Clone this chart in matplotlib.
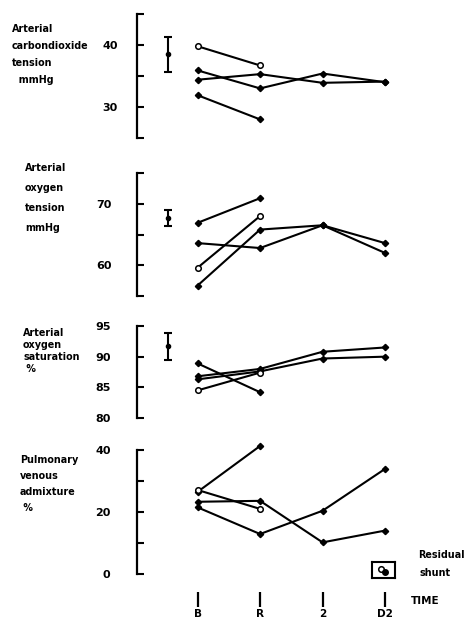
import matplotlib
matplotlib.use("Agg")
import matplotlib.pyplot as plt

times = ["B", "R", "2", "D2"]

# arterial CO2 tension, mmHg
co2_shunt = [39.8, 36.7]
co2_a = [35.9, 33.0, 35.4, 34.0]
co2_b = [34.4, 35.3, 33.9, 34.1]
co2_c = [31.9, 28.0]
co2_norm = (38.5, 2.85)

# arterial O2 tension, mmHg
o2_shunt = [59.6, 68.0]
o2_a = [66.9, 70.9]
o2_b = [63.6, 62.8, 66.5, 63.6]
o2_c = [56.7, 65.8, 66.5, 62.0]
o2_norm = (67.7, 1.25)

# arterial O2 saturation, %
sat_shunt = [84.5, 87.4]
sat_a = [88.9, 84.2]
sat_b = [86.8, 88.0, 90.8, 91.5]
sat_c = [86.3, 87.6, 89.7, 90.0]
sat_norm = (91.7, 2.2)

# pulmonary venous admixture, %
adm_shunt = [27.1, 21.0]
adm_a = [26.5, 41.3]
adm_b = [23.3, 23.6, 10.2, 14.0]
adm_c = [21.5, 12.9, 20.4, 33.9]

W, H = 467, 623
fig = plt.figure(figsize=(W / 100, H / 100), dpi=100)
plt.rcParams["font.family"] = "DejaVu Sans"

def px_axes(top, bottom):
    return fig.add_axes([137 / W, 1 - bottom / H, 273 / W, (bottom - top) / H])

panels = [
    # top px, bottom px, ylim, ticks, labelled ticks, shunt, filled series, norm, pad
    (14, 138, (25, 45), [25, 30, 35, 40, 45], [30, 40], co2_shunt, [co2_a, co2_b, co2_c], co2_norm, 14),
    (173, 296, (55, 75), [55, 60, 65, 70, 75], [60, 70], o2_shunt, [o2_a, o2_b, o2_c], o2_norm, 18),
    (326, 418, (80, 95), [80, 85, 90, 95], [80, 85, 90, 95], sat_shunt, [sat_a, sat_b, sat_c], sat_norm, 19),
    (450, 574, (0, 40), [0, 10, 20, 30, 40], [0, 20, 40], adm_shunt, [adm_a, adm_b, adm_c], None, 19),
]

axes = []
for top, bottom, ylim, ticks, shown, shunt, series, norm, pad in panels:
    ax = px_axes(top, bottom)
    ax.set_xlim(-0.97, 3.4)
    ax.set_ylim(*ylim)
    for s in ["top", "right", "bottom"]:
        ax.spines[s].set_visible(False)
    ax.spines["left"].set_linewidth(1.6)
    ax.set_yticks(ticks, [str(t) if t in shown else "" for t in ticks])
    ax.tick_params(axis="y", direction="in", length=5, width=1.5, pad=pad,
                   labelsize=8)
    for lab in ax.get_yticklabels():
        lab.set_fontweight("bold")
    ax.set_xticks([])
    ax.patch.set_alpha(0)

    for s in series:
        ax.plot(range(len(s)), s, color="black", lw=1.5, marker="D", ms=3.2,
                clip_on=False)
    ax.plot(range(len(shunt)), shunt, color="black", lw=1.5, marker="o", ms=4,
            mfc="white", mew=1.1, clip_on=False)
    if norm is not None:
        ax.errorbar([-0.47], [norm[0]], yerr=[norm[1]], fmt="o", ms=3,
                    color="black", lw=1.5, capsize=3, capthick=1.5)
    axes.append(ax)

# time axis under the last panel
ax4 = axes[-1]
ax4.spines["bottom"].set_visible(True)
ax4.spines["bottom"].set_color("none")
ax4.spines["bottom"].set_position(("outward", 13))
ax4.set_xticks(range(len(times)), times)
ax4.tick_params(axis="x", direction="out", length=10.5, width=1.6, pad=2,
                labelsize=7.5)
for lab in ax4.get_xticklabels():
    lab.set_fontweight("bold")
ax4.text(3.42, -0.22, "TIME", transform=ax4.get_xaxis_transform(),
         fontsize=7.5, fontweight="bold", va="center", ha="left")

# panel titles on the left
titles = [
    (12, 29, 17, ["Arterial", "carbondioxide", "tension", "  mmHg"]),
    (25, 168, 20, ["Arterial", "oxygen", "tension", "mmHg"]),
    (23, 333, 12, ["Arterial", "oxygen", "saturation", " %"]),
    (20, 460, 16, ["Pulmonary", "venous", "admixture", " %"]),
]
for x, y, step, lines in titles:
    for i, line in enumerate(lines):
        fig.text(x / W, 1 - (y + i * step) / H, line, fontsize=6.9,
                 fontweight="bold", va="center", ha="left")

# residual shunt key
key = fig.add_axes([372 / W, 1 - 578 / H, 23 / W, 16 / H])
key.set_xlim(0, 1)
key.set_ylim(0, 1)
key.set_xticks([])
key.set_yticks([])
for s in key.spines.values():
    s.set_linewidth(1.5)
key.plot([0.38], [0.55], marker="o", ms=4, mfc="white", mec="black", mew=1.1)
key.plot([0.58], [0.38], marker="o", ms=4, color="black")
fig.text(418 / W, 1 - 555 / H, "Residual", fontsize=6.9, fontweight="bold",
         va="center", ha="left")
fig.text(420 / W, 1 - 573 / H, "shunt", fontsize=6.9, fontweight="bold",
         va="center", ha="left")

fig.savefig("out.png", dpi=100)
